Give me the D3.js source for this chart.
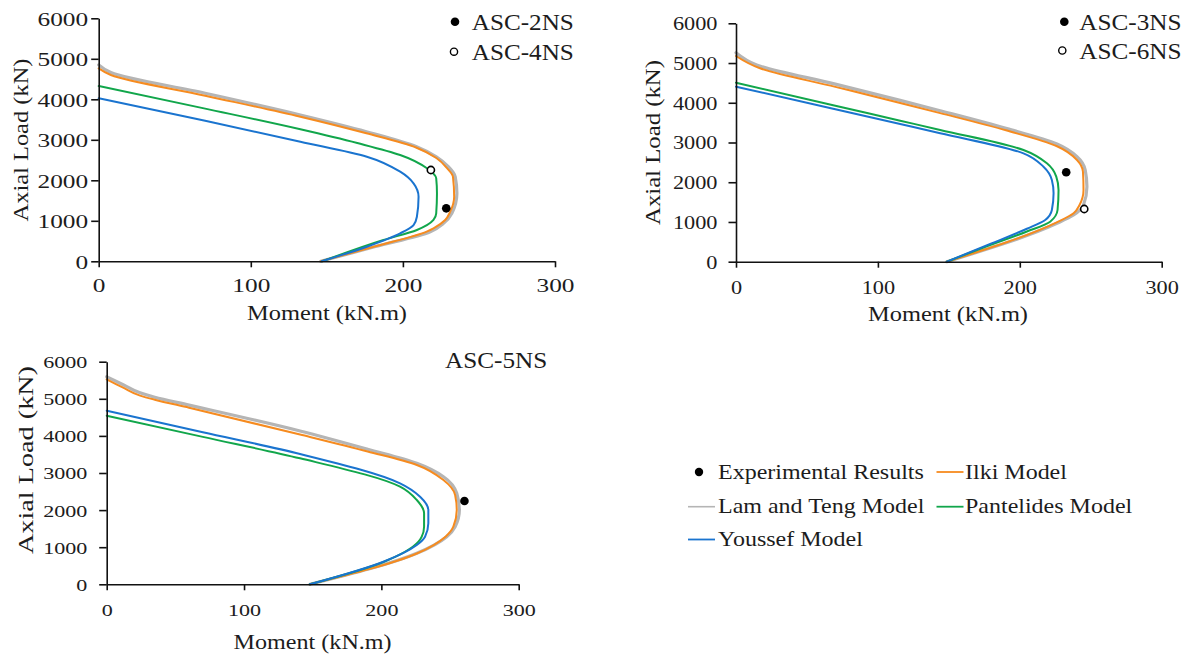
<!DOCTYPE html>
<html>
<head>
<meta charset="utf-8">
<script src="https://cdn.jsdelivr.net/npm/d3@7"></script>
<style>
  body { margin: 0; background: #fff; }
  svg { display: block; }
  text { font-family: "Liberation Serif", "Times New Roman", serif; fill: #1c1c1c; }
</style>
</head>
<body>
<svg id="chart" width="1192" height="657"></svg>
<script>
// ---------- axis ticks ----------
const momentTicks = [0, 100, 200, 300];
const loadTicks = [0, 1000, 2000, 3000, 4000, 5000, 6000];
const xTitle = "Moment (kN.m)";
const yTitle = "Axial Load (kN)";
const legendNames = ["Experimental Results", "Ilki Model", "Lam and Teng Model", "Pantelides Model", "Youssef Model"];

// ---------- interaction curves: [moment kN.m, axial load kN] ----------
// Column group ASC-2NS / ASC-4NS
const g1Lam = [[0,4850],[8,4660],[70,4150],[132.6,3612],[176,3200],[209,2830],[222,2580],[230,2330],[234.4,2089],[235.5,1679],[232.2,1185],[226.7,938],[218,731],[182,365],[146,0]];
const g1Ilki = [[0,4765],[8,4600],[70,4090],[132.6,3570],[176,3160],[209,2805],[222,2550],[229,2300],[232.9,2089],[233.7,1595],[231.1,1225],[227.8,1020],[220.1,815],[216,740],[182,370],[146,0]];
const g1Pant = [[0,4328],[70,3770],[132.6,3259],[170,2920],[198.2,2625],[215.8,2296],[221.9,2049],[222.4,1679],[221.9,1185],[220.1,1020],[209.2,773],[187.2,526],[147,0]];
const g1Yous = [[0,4025],[70,3470],[132.6,2953],[176.3,2583],[198.2,2212],[207,1926],[210.3,1595],[209.2,1101],[207,896],[198.2,691],[176.3,360],[146.5,0]];
// Column group ASC-3NS / ASC-6NS
const g2Lam = [[0,5261],[14.6,4951],[70,4470],[115.7,4060],[143.9,3800],[190.9,3350],[226.2,2960],[240.3,2643],[246.1,2308],[247.3,1888],[244.9,1427],[237.9,1175],[226.2,966],[148.6,0]];
const g2Ilki = [[0,5177],[16.9,4868],[70,4400],[115.7,3995],[143.9,3740],[190.9,3300],[226.2,2905],[240.3,2560],[244.5,2265],[244.9,1805],[242.1,1427],[237.9,1218],[226,990],[148.6,0]];
const g2Pant = [[0,4505],[70,3927],[115.7,3549],[143.9,3316],[202.6,2811],[219.1,2476],[225.7,2140],[227.3,1805],[226.6,1301],[221.4,1007],[205,760],[179.1,420],[148.6,0]];
const g2Yous = [[0,4405],[70,3838],[115.7,3466],[143.9,3235],[202.6,2728],[216.7,2391],[222.6,2056],[223.8,1721],[222.6,1301],[217.9,1050],[205,830],[180,460],[148.6,0]];
// Column ASC-5NS
const g3Lam = [[0,5596],[12,5380],[24.3,5160],[35,5040],[60,4830],[140.8,4132],[190,3640],[225.8,3261],[245.2,2900],[254.9,2453],[256.8,2003],[253.7,1553],[247.6,1283],[225.8,836],[148,0]];
const g3Ilki = [[0,5526],[12,5300],[24.3,5085],[35,4975],[60,4760],[140.8,4038],[190,3580],[225.8,3216],[245.2,2811],[253.7,2407],[254.9,2003],[252.4,1553],[246.7,1283],[225.8,830],[148,0]];
const g3Pant = [[0,4545],[70,3974],[140.8,3396],[213.6,2631],[225.8,2272],[231.1,1914],[231.1,1553],[229.4,1283],[227,1148],[201.5,600],[148,0]];
const g3Yous = [[0,4680],[70,4101],[140.8,3512],[213.6,2722],[228.2,2361],[234.2,2003],[234.2,1644],[231.8,1283],[225.8,1059],[201.5,609],[148,0]];

// ---------- test results: [moment kN.m, axial load kN] ----------
const asc2NS = [228.5, 1308];
const asc4NS = [218.4, 2254];
const asc3NS = [232.7, 2250];
const asc6NS = [245.4, 1326];
const asc5NS = [260.5, 2245];

// ---------- styles ----------
const colors = { ilki: "#F68B1F", lam: "#B5B5B5", pant: "#11A64B", yous: "#1A74CF" };
const widths = { ilki: 2, lam: 3.2, pant: 2, yous: 2 };

const svg = d3.select("#chart");

function stretchedText(parent, str, x, y, opts) {
  const t = parent.append("text")
    .attr("transform", `translate(${x},${y})` + (opts.rotate ? ` rotate(${opts.rotate})` : "") + (opts.sx ? ` scale(${opts.sx},1)` : ""))
    .attr("font-size", opts.size)
    .attr("text-anchor", opts.anchor || "start")
    .text(str);
  if (opts.length) t.attr("textLength", opts.length).attr("lengthAdjust", "spacingAndGlyphs");
  return t;
}

const panels = [
  { left: 98.7, right: 555, top: 18.3, bottom: 261.3,
    curves: { lam: g1Lam, ilki: g1Ilki, pant: g1Pant, yous: g1Yous },
    tests: [{ d: asc2NS, name: "ASC-2NS", filled: true }, { d: asc4NS, name: "ASC-4NS", filled: false }],
    keys: [[455, 21.7, 471.7, 30], [454, 51.7, 471.7, 60]],
    tickFont: 19.5, tickSx: 1.3, yGap: 10.5, xLabelCenter: 285.5,
    xTitle: [327, 320, 160], yTitle: [28, 140, 163] },
  { left: 736, right: 1161.7, top: 23.3, bottom: 261.7,
    curves: { lam: g2Lam, ilki: g2Ilki, pant: g2Pant, yous: g2Yous },
    tests: [{ d: asc3NS, name: "ASC-3NS", filled: true }, { d: asc6NS, name: "ASC-6NS", filled: false }],
    keys: [[1064.3, 21.7, 1079.3, 30], [1062.3, 50.5, 1079.3, 59]],
    tickFont: 18, tickSx: 1.24, yGap: 18.5, xLabelCenter: 287.5,
    xTitle: [948, 320.5, 160], yTitle: [660, 142.5, 165] },
  { left: 106.7, right: 518.7, top: 361.7, bottom: 584.3,
    curves: { lam: g3Lam, ilki: g3Ilki, pant: g3Pant, yous: g3Yous },
    tests: [{ d: asc5NS, name: "ASC-5NS", filled: true }],
    keys: [[null, null, 445, 367.5]],
    tickFont: 17, tickSx: 1.3, yGap: 19.4, xLabelCenter: 610.5,
    xTitle: [312.6, 648.5, 158], yTitle: [33, 460, 188] }
];

panels.forEach(p => {
  const x = d3.scaleLinear().domain([0, 300]).range([p.left, p.right]);
  const y = d3.scaleLinear().domain([0, 6000]).range([p.bottom, p.top]);
  const g = svg.append("g");

  // interaction diagrams
  const line = d3.line().x(d => x(d[0])).y(d => y(d[1])).curve(d3.curveMonotoneY);
  ["lam", "ilki", "pant", "yous"].forEach(k => {
    g.append("path").datum(p.curves[k]).attr("d", line)
      .attr("fill", "none").attr("stroke", colors[k]).attr("stroke-width", widths[k])
      .attr("stroke-linejoin", "round").attr("stroke-linecap", "round");
  });

  // axes
  const xa = g.append("g").attr("transform", `translate(0,${p.bottom})`)
    .call(d3.axisBottom(x).tickValues(momentTicks).tickFormat(d3.format("d")).tickSize(6).tickSizeOuter(0));
  const ya = g.append("g").attr("transform", `translate(${p.left},0)`)
    .call(d3.axisLeft(y).tickValues(loadTicks).tickFormat(d3.format("d")).tickSize(7.5).tickSizeOuter(0));
  [xa, ya].forEach(a => {
    a.attr("font-family", null).attr("font-size", p.tickFont);
    a.select(".domain").attr("stroke", "#111").attr("stroke-width", 1.6);
    a.selectAll(".tick line").attr("stroke", "#111").attr("stroke-width", 1.6);
  });
  xa.selectAll(".tick text")
    .attr("y", p.xLabelCenter - p.bottom).attr("dy", "0.35em")
    .attr("transform", `scale(${p.tickSx},1)`);
  ya.selectAll(".tick text")
    .attr("x", 0).attr("dy", "0.35em")
    .attr("transform", `translate(${-p.yGap},0) scale(${p.tickSx},1)`);

  // axis titles
  stretchedText(g, xTitle, p.xTitle[0], p.xTitle[1], { size: 22, anchor: "middle", length: p.xTitle[2] });
  stretchedText(g, yTitle, p.yTitle[0], p.yTitle[1], { size: 22, anchor: "middle", rotate: -90, length: p.yTitle[2] });

  // test results and their keys
  p.tests.forEach((t, i) => {
    g.append("circle").attr("cx", x(t.d[0])).attr("cy", y(t.d[1])).attr("r", t.filled ? 4.3 : 3.6)
      .attr("fill", t.filled ? "#000" : "#fff").attr("stroke", "#000").attr("stroke-width", t.filled ? 0 : 1.6);
    const k = p.keys[i];
    if (k[0] !== null) {
      g.append("circle").attr("cx", k[0]).attr("cy", k[1]).attr("r", t.filled ? 4.3 : 3.6)
        .attr("fill", t.filled ? "#000" : "#fff").attr("stroke", "#000").attr("stroke-width", t.filled ? 0 : 1.4);
    }
    stretchedText(g, t.name, k[2], k[3], { size: 24, sx: 1.05 });
  });
});

// ---------- shared legend ----------
const lg = svg.append("g");
const legendItems = [
  { name: legendNames[0], kind: "dot", mx: 699, tx: 718, cy: 472 },
  { name: legendNames[1], kind: "ilki", mx: 950, tx: 965, cy: 472 },
  { name: legendNames[2], kind: "lam", mx: 701.5, tx: 718, cy: 506.7 },
  { name: legendNames[3], kind: "pant", mx: 950, tx: 965, cy: 506.7 },
  { name: legendNames[4], kind: "yous", mx: 701.5, tx: 718, cy: 539.5 }
];
legendItems.forEach(it => {
  if (it.kind === "dot") {
    lg.append("circle").attr("cx", it.mx).attr("cy", it.cy).attr("r", 4.2).attr("fill", "#000");
  } else {
    lg.append("line").attr("x1", it.mx - 13.5).attr("x2", it.mx + 13.5).attr("y1", it.cy).attr("y2", it.cy)
      .attr("stroke", colors[it.kind]).attr("stroke-width", it.kind === "lam" ? 1.6 : 1.8);
  }
  lg.append("text").attr("transform", `translate(${it.tx},${it.cy + 6.6}) scale(1.2,1)`)
    .attr("font-size", 20).text(it.name);
});
</script>
</body>
</html>
